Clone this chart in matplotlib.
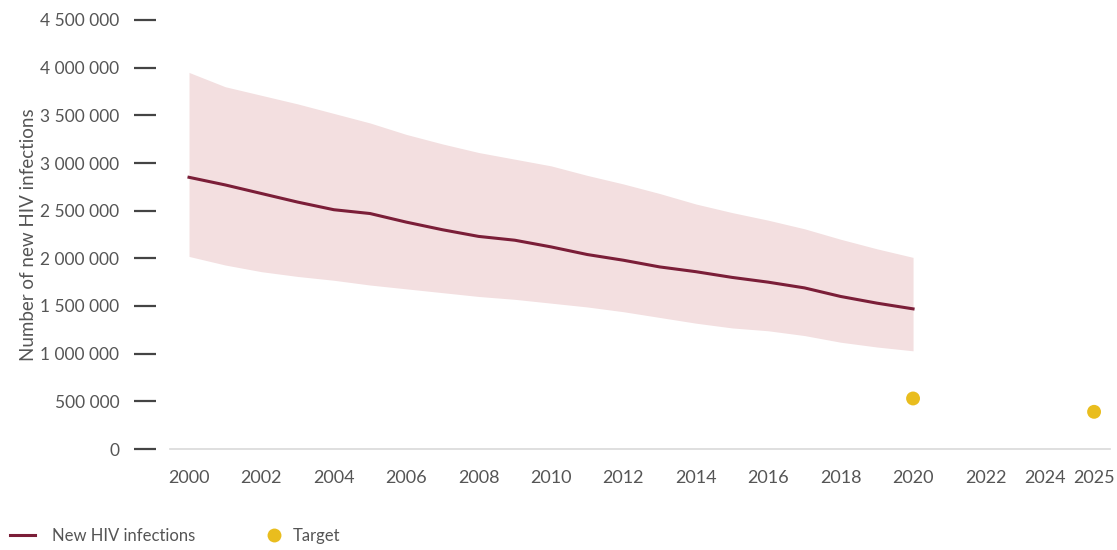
import numpy as np
import matplotlib.pyplot as plt
import matplotlib.transforms as mtransforms
from matplotlib.lines import Line2D
from matplotlib.ticker import FuncFormatter

# values
years = list(range(2000, 2021))
new_infections = [2850000, 2770000, 2680000, 2590000, 2510000, 2470000, 2380000,
                  2300000, 2230000, 2190000, 2120000, 2040000, 1980000, 1910000,
                  1860000, 1800000, 1750000, 1690000, 1600000, 1530000, 1470000]
upper_bound = [3950000, 3800000, 3710000, 3620000, 3520000, 3420000, 3300000,
               3200000, 3110000, 3040000, 2970000, 2870000, 2780000, 2680000,
               2570000, 2480000, 2400000, 2310000, 2200000, 2100000, 2010000]
lower_bound = [2020000, 1930000, 1860000, 1810000, 1770000, 1720000, 1680000,
               1640000, 1600000, 1570000, 1530000, 1490000, 1440000, 1380000,
               1320000, 1270000, 1240000, 1190000, 1120000, 1070000, 1030000]
target_years = [2020, 2025]
target_values = [530000, 390000]
xtick_years = [2000, 2002, 2004, 2006, 2008, 2010, 2012, 2014, 2016, 2018,
               2020, 2022, 2024, 2025]

line_color = '#7b1e38'
band_color = '#f3dfe0'
target_color = '#e9bd1e'
text_color = '#555555'

plt.rcParams['font.family'] = ['Lato', 'DejaVu Sans']

fig = plt.figure(figsize=(11.17, 5.5), dpi=100)
ax = fig.add_axes([170 / 1117, 1 - 449 / 550, 940 / 1117, 429 / 550])

ax.fill_between(years, lower_bound, upper_bound, color=band_color, linewidth=0)
ax.plot(years, new_infections, color=line_color, linewidth=2.2)
ax.scatter(target_years, target_values, s=100, color=target_color, zorder=3,
           edgecolors='none')

ax.set_xlim(1999.475, 2025.44)
ax.set_ylim(0, 4500000)

ax.set_yticks(np.arange(0, 4500001, 500000))
ax.yaxis.set_major_formatter(FuncFormatter(lambda v, p: f'{int(v):,}'.replace(',', ' ')))
ax.set_xticks(xtick_years)
ax.set_xticklabels([str(y) for y in xtick_years])

for s in ['top', 'right', 'left']:
    ax.spines[s].set_visible(False)
ax.spines['bottom'].set_color('#d9d9d9')
ax.spines['bottom'].set_linewidth(1.2)
ax.spines['left'].set_position(('outward', 10))

ax.tick_params(axis='y', length=15.5, width=1.6, color='#444444', pad=11,
               labelsize=12.5, labelcolor=text_color)
ax.tick_params(axis='x', length=0, pad=15, labelsize=13, labelcolor=text_color)

# 2024 and 2025 sit close together, nudge 2024 a bit to the left like the original
for lbl in ax.get_xticklabels():
    if lbl.get_text() == '2024':
        lbl.set_transform(lbl.get_transform() +
                          mtransforms.ScaledTranslation(-13 / 100, 0, fig.dpi_scale_trans))

ax.set_ylabel('Number of new HIV infections', fontsize=13.5, color=text_color, labelpad=2)

# legend drawn as two pieces so the spacing of each entry can follow the original
line_handle = Line2D([0], [0], color=line_color, linewidth=2.2, label='New HIV infections')
dot_handle = Line2D([0], [0], marker='o', linestyle='none', markersize=10,
                    markerfacecolor=target_color, markeredgecolor='none', label='Target')

leg1 = fig.legend(handles=[line_handle], loc='center left',
                  bbox_to_anchor=(10 / 1117, 1 - 536 / 550), frameon=False,
                  fontsize=12, handlelength=1.5, handletextpad=1.0,
                  borderpad=0, borderaxespad=0)
leg2 = fig.legend(handles=[dot_handle], loc='center left',
                  bbox_to_anchor=(266 / 1117, 1 - 536 / 550), frameon=False,
                  fontsize=12, handlelength=1.0, handletextpad=0.6,
                  borderpad=0, borderaxespad=0)
for leg in (leg1, leg2):
    for t in leg.get_texts():
        t.set_color(text_color)

fig.savefig('out.png', dpi=100)
